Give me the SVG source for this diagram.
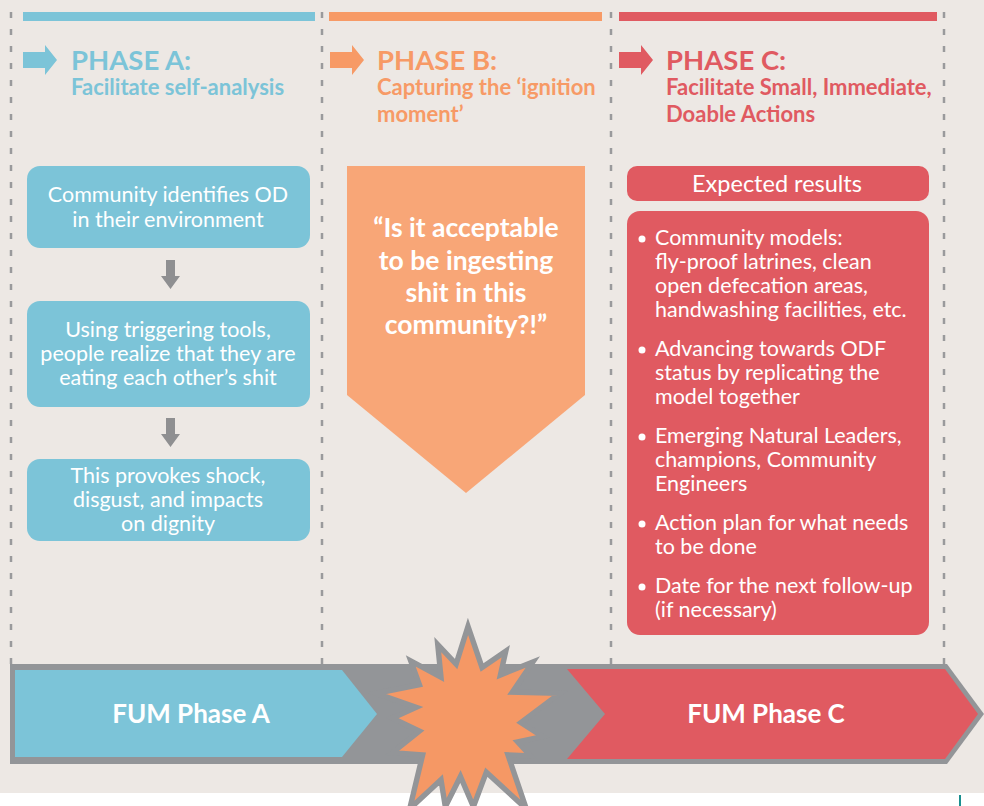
<svg xmlns="http://www.w3.org/2000/svg" width="984" height="806" viewBox="0 0 984 806">
<style>
.t{font-family:Lato,"Open Sans","Liberation Sans",sans-serif}
.h{font-weight:bold;font-size:27.5px}
.s{font-weight:bold;font-size:22px}
.w{fill:#ffffff;font-size:21.5px}
.wb{fill:#ffffff;font-weight:bold}
.dash{stroke:#9a9a9c;stroke-width:2.5;stroke-dasharray:6 11;fill:none}
</style>
<rect x="0" y="0" width="984" height="793" fill="#ede8e4"/>
<rect x="0" y="793" width="984" height="13" fill="#ffffff"/>
<line x1="960" y1="795" x2="960" y2="806" stroke="#1a8f8f" stroke-width="2"/>

<g id="columns">
<line class="dash" x1="11" y1="12" x2="11" y2="665"/>
<line class="dash" x1="322" y1="12" x2="322" y2="665"/>
<line class="dash" x1="611" y1="12" x2="611" y2="665"/>
<line class="dash" x1="944" y1="12" x2="944" y2="665"/>
<rect x="23" y="12" width="292" height="9" fill="#7cc4d8"/>
<rect x="329" y="12" width="273" height="9" fill="#f79a66"/>
<rect x="619" y="12" width="318" height="9" fill="#e05a61"/>
</g>

<g id="header-a">
<polygon points="23,52 45,52 45,45 57,60 45,75 45,68 23,68" fill="#7cc4d8"/>
<text class="t h" x="71" y="70" fill="#7cc4d8">PHASE A:</text>
<text class="t s" x="71" y="95" fill="#7cc4d8">Facilitate self-analysis</text>
</g>
<g id="header-b">
<polygon points="330,52 352,52 352,45 364,60 352,75 352,68 330,68" fill="#f79a66"/>
<text class="t h" x="377" y="70" fill="#f79a66">PHASE B:</text>
<text class="t s" x="377" y="95" fill="#f79a66">Capturing the ‘ignition</text>
<text class="t s" x="377" y="122" fill="#f79a66">moment’</text>
</g>
<g id="header-c">
<polygon points="619,52 641,52 641,45 653,60 641,75 641,68 619,68" fill="#e05a61"/>
<text class="t h" x="666" y="70" fill="#e05a61">PHASE C:</text>
<text class="t s" x="666" y="95" fill="#e05a61">Facilitate Small, Immediate,</text>
<text class="t s" x="666" y="122" fill="#e05a61">Doable Actions</text>
</g>

<g id="connectors">
<polygon points="166,260 175,260 175,276 180,276 170.5,289 161,276 166,276" fill="#8f8f91"/>
<polygon points="166,418 175,418 175,434 180,434 170.5,447 161,434 166,434" fill="#8f8f91"/>
</g>

<g id="box-a1">
<rect x="27" y="166" width="283" height="82" rx="13" fill="#7cc4d8"/>
<text class="t w" text-anchor="middle" x="168" y="202">Community identifies OD</text>
<text class="t w" text-anchor="middle" x="168" y="227">in their environment</text>
</g>
<g id="box-a2">
<rect x="27" y="301" width="283" height="106" rx="13" fill="#7cc4d8"/>
<text class="t w" text-anchor="middle" x="168" y="337">Using triggering tools,</text>
<text class="t w" text-anchor="middle" x="168" y="361">people realize that they are</text>
<text class="t w" text-anchor="middle" x="168" y="385">eating each other’s shit</text>
</g>
<g id="box-a3">
<rect x="27" y="459" width="283" height="82" rx="13" fill="#7cc4d8"/>
<text class="t w" text-anchor="middle" x="168" y="483">This provokes shock,</text>
<text class="t w" text-anchor="middle" x="168" y="507">disgust, and impacts</text>
<text class="t w" text-anchor="middle" x="168" y="531">on dignity</text>
</g>

<g id="box-b">
<polygon points="347,166 585,166 585,395 466,493 347,395" fill="#f8a677"/>
<text class="t wb" font-size="26.5" text-anchor="middle" x="466" y="237">“Is it acceptable</text>
<text class="t wb" font-size="26.5" text-anchor="middle" x="466" y="270">to be ingesting</text>
<text class="t wb" font-size="26.5" text-anchor="middle" x="466" y="302">shit in this</text>
<text class="t wb" font-size="26.5" text-anchor="middle" x="466" y="334">community?!”</text>
</g>

<g id="box-c-title">
<rect x="627" y="166" width="302" height="35" rx="10" fill="#e05a61"/>
<text class="t w" style="font-size:23.5px" text-anchor="middle" x="777" y="192">Expected results</text>
</g>
<g id="box-c-list">
<rect x="627" y="211" width="302" height="424" rx="13" fill="#e05a61"/>
<g fill="#ffffff">
<circle cx="642" cy="239" r="3.5"/>
<circle cx="642" cy="350" r="3.5"/>
<circle cx="642" cy="437" r="3.5"/>
<circle cx="642" cy="524" r="3.5"/>
<circle cx="642" cy="587" r="3.5"/>
</g>
<text class="t w" x="655" y="245">Community models:</text>
<text class="t w" x="655" y="269">fly-proof latrines, clean</text>
<text class="t w" x="655" y="293">open defecation areas,</text>
<text class="t w" x="655" y="317">handwashing facilities, etc.</text>
<text class="t w" x="655" y="356">Advancing towards ODF</text>
<text class="t w" x="655" y="380">status by replicating the</text>
<text class="t w" x="655" y="404">model together</text>
<text class="t w" x="655" y="443">Emerging Natural Leaders,</text>
<text class="t w" x="655" y="467">champions, Community</text>
<text class="t w" x="655" y="491">Engineers</text>
<text class="t w" x="655" y="530">Action plan for what needs</text>
<text class="t w" x="655" y="554">to be done</text>
<text class="t w" x="655" y="593">Date for the next follow-up</text>
<text class="t w" x="655" y="617">(if necessary)</text>
</g>

<g id="band">
<polygon points="10,664 947,664 984,714 947,764 10,764" fill="#939598"/>
</g>
<g id="fum-a">
<polygon points="15,670 342,670 377,714 342,757 15,757" fill="#7cc4d8"/>
<text class="t wb" font-size="26" text-anchor="middle" x="191" y="723">FUM Phase A</text>
</g>
<g id="fum-c">
<polygon points="567,669 945,669 978,714 945,759 567,759 605,714" fill="#e05a61"/>
<text class="t wb" font-size="26" text-anchor="middle" x="766" y="723">FUM Phase C</text>
</g>
<g id="burst">
<polygon transform="translate(468,716) scale(1.08) translate(-468,-716)" points="468,633 481,671 503,656 498,678 528,666 509,694 553,695 517,722 537,735 514,740 526,753 505,752 522,802 485,768 473,800 461,772 447,800 443,775 414,802 426,752 398,750 423,730 398,718 420,708 383,695 423,687 415,665 443,680 440,650 457,668" fill="#f59865" stroke="#939598" stroke-width="5" stroke-linejoin="miter"/>
</g>
</svg>
